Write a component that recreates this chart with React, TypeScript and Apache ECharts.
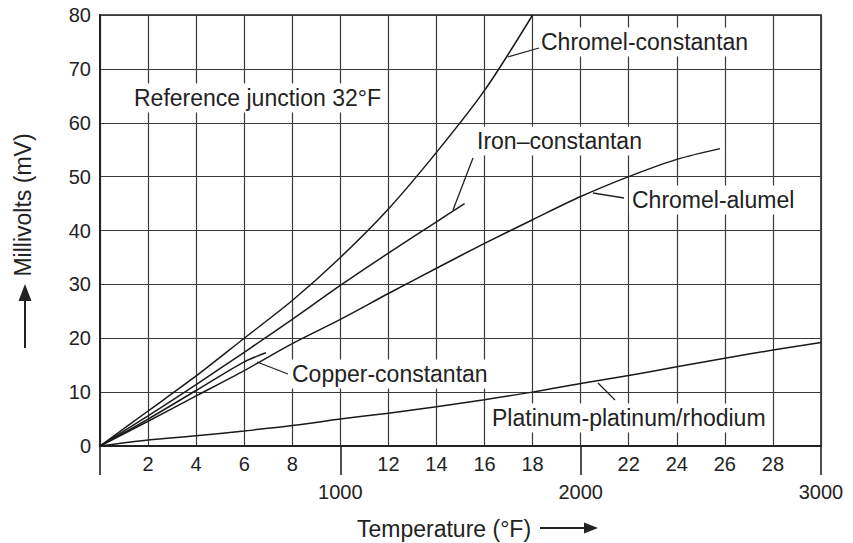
import React, { useEffect, useRef } from 'react';
import * as echarts from 'echarts';

// Temperature in °F, EMF in mV (reference junction 32°F)
const chromelConstantan: [number, number][] = [
  [0, 0], [200, 6.5], [400, 13], [600, 20], [800, 27], [1000, 35], [1200, 44],
  [1400, 54.5], [1600, 66], [1800, 80],
];
const ironConstantan: [number, number][] = [
  [0, 0], [200, 5.6], [400, 11.4], [600, 17.4], [800, 23.5], [1000, 29.8],
  [1200, 35.8], [1400, 41.6], [1517, 45],
];
const chromelAlumel: [number, number][] = [
  [0, 0], [200, 4.6], [400, 9.3], [600, 14], [800, 19], [1000, 23.5], [1200, 28.3],
  [1400, 33], [1600, 37.6], [1800, 42], [2000, 46.3], [2200, 50], [2400, 53.2], [2580, 55.2],
];
const copperConstantan: [number, number][] = [
  [0, 0], [200, 5], [400, 10.3], [600, 15.6], [690, 17.3],
];
const platinumRhodium: [number, number][] = [
  [0, 0], [200, 1.1], [400, 1.9], [600, 2.8], [800, 3.8], [1000, 5], [1200, 6.1],
  [1400, 7.3], [1600, 8.6], [1800, 10], [2000, 11.6], [2200, 13.1], [2400, 14.7],
  [2600, 16.3], [2800, 17.8], [3000, 19.2],
];

const seriesNames = [
  'Chromel-constantan',
  'Iron–constantan',
  'Chromel-alumel',
  'Copper-constantan',
  'Platinum-platinum/rhodium',
];
const seriesData = [chromelConstantan, ironConstantan, chromelAlumel, copperConstantan, platinumRhodium];

const majorTempLabels = ['1000', '2000', '3000'];
const noteText = 'Reference junction 32°F';
const xTitle = 'Temperature (°F)';
const yTitle = 'Millivolts (mV)';

const FONT = '"Liberation Sans", Arial, Helvetica, sans-serif';
const INK = '#222';

export default function App() {
  const ref = useRef<HTMLDivElement>(null);

  useEffect(() => {
    if (!ref.current) return;
    const chart = echarts.init(ref.current, null, { renderer: 'svg' });

    const label = (text: string, x: number, y: number) => ({
      type: 'text',
      x,
      y,
      z: 1,
      style: {
        text,
        fontSize: 23,
        fontFamily: FONT,
        fill: INK,
        align: 'left',
        verticalAlign: 'middle',
        backgroundColor: '#fff',
        padding: [3, 3, 3, 3],
      },
    });
    const leader = (x1: number, y1: number, x2: number, y2: number) => ({
      type: 'line',
      z: 3,
      shape: { x1, y1, x2, y2 },
      style: { stroke: INK, lineWidth: 1.3 },
    });

    const option: any = {
      animation: false,
      backgroundColor: '#fff',
      textStyle: { fontFamily: FONT },
      grid: {
        left: 100, right: 32, top: 15, bottom: 97,
        show: true, borderColor: INK, borderWidth: 1.6, backgroundColor: 'transparent',
      },
      xAxis: [
        {
          type: 'value', position: 'bottom', min: 0, max: 3000, interval: 200,
          axisLine: { show: true, lineStyle: { color: INK, width: 2 } },
          axisTick: { show: false },
          axisLabel: {
            color: INK, fontSize: 20, margin: 8,
            formatter: (v: number) => (v % 1000 === 0 ? '' : String(v / 100)),
          },
          splitLine: { show: true, lineStyle: { color: '#3a3a3a', width: 1.2 } },
        },
        {
          type: 'value', position: 'bottom', min: 0, max: 3000, interval: 1000,
          axisLine: { show: false },
          axisTick: { show: true, length: 29, lineStyle: { color: INK, width: 1.6 } },
          axisLabel: {
            color: INK, fontSize: 20, margin: 36, showMaxLabel: true,
            formatter: (v: number) => (v === 0 ? '' : majorTempLabels[v / 1000 - 1] ?? ''),
          },
          splitLine: { show: false },
        },
      ],
      yAxis: {
        type: 'value', min: 0, max: 80, interval: 10,
        axisLine: { show: true, lineStyle: { color: INK, width: 2 } },
        axisTick: { show: false },
        axisLabel: { color: INK, fontSize: 20, margin: 9 },
        splitLine: { show: true, lineStyle: { color: '#3a3a3a', width: 1.2 } },
      },
      series: seriesData.map((d, i) => ({
        name: seriesNames[i],
        type: 'line',
        xAxisIndex: 0,
        data: d,
        smooth: 0.3,
        showSymbol: false,
        symbol: 'none',
        z: 2,
        lineStyle: { color: '#1a1a1a', width: 1.5 },
        silent: true,
      })),
      graphic: [
        label(noteText, 131, 98),
        label(seriesNames[0], 538, 42),
        label(seriesNames[1], 474, 141),
        label(seriesNames[2], 629, 200),
        label(seriesNames[3], 289, 374),
        label(seriesNames[4], 489, 418),
        leader(508, 57, 539, 48),
        leader(453, 210, 473, 158),
        leader(593, 193, 624, 198),
        leader(257, 362, 288, 374),
        leader(598, 383, 615, 400),
        {
          type: 'text', x: 23, y: 205, rotation: Math.PI / 2, z: 1,
          style: { text: yTitle, fontSize: 23, fontFamily: FONT, fill: INK, align: 'center', verticalAlign: 'middle' },
        },
        { type: 'line', shape: { x1: 25, y1: 348, x2: 25, y2: 298 }, style: { stroke: INK, lineWidth: 2 } },
        { type: 'polygon', shape: { points: [[25, 284], [18.5, 301], [31.5, 301]] }, style: { fill: INK } },
        {
          type: 'text', x: 357, y: 529, z: 1,
          style: { text: xTitle, fontSize: 23, fontFamily: FONT, fill: INK, align: 'left', verticalAlign: 'middle' },
        },
        { type: 'line', shape: { x1: 540, y1: 528, x2: 588, y2: 528 }, style: { stroke: INK, lineWidth: 2 } },
        { type: 'polygon', shape: { points: [[598, 528], [584, 522.5], [584, 533.5]] }, style: { fill: INK } },
      ],
    };

    chart.setOption(option);
    return () => chart.dispose();
  }, []);

  return <div ref={ref} style={{ width: 853, height: 543, position: 'absolute', left: 0, top: 0 }} />;
}
